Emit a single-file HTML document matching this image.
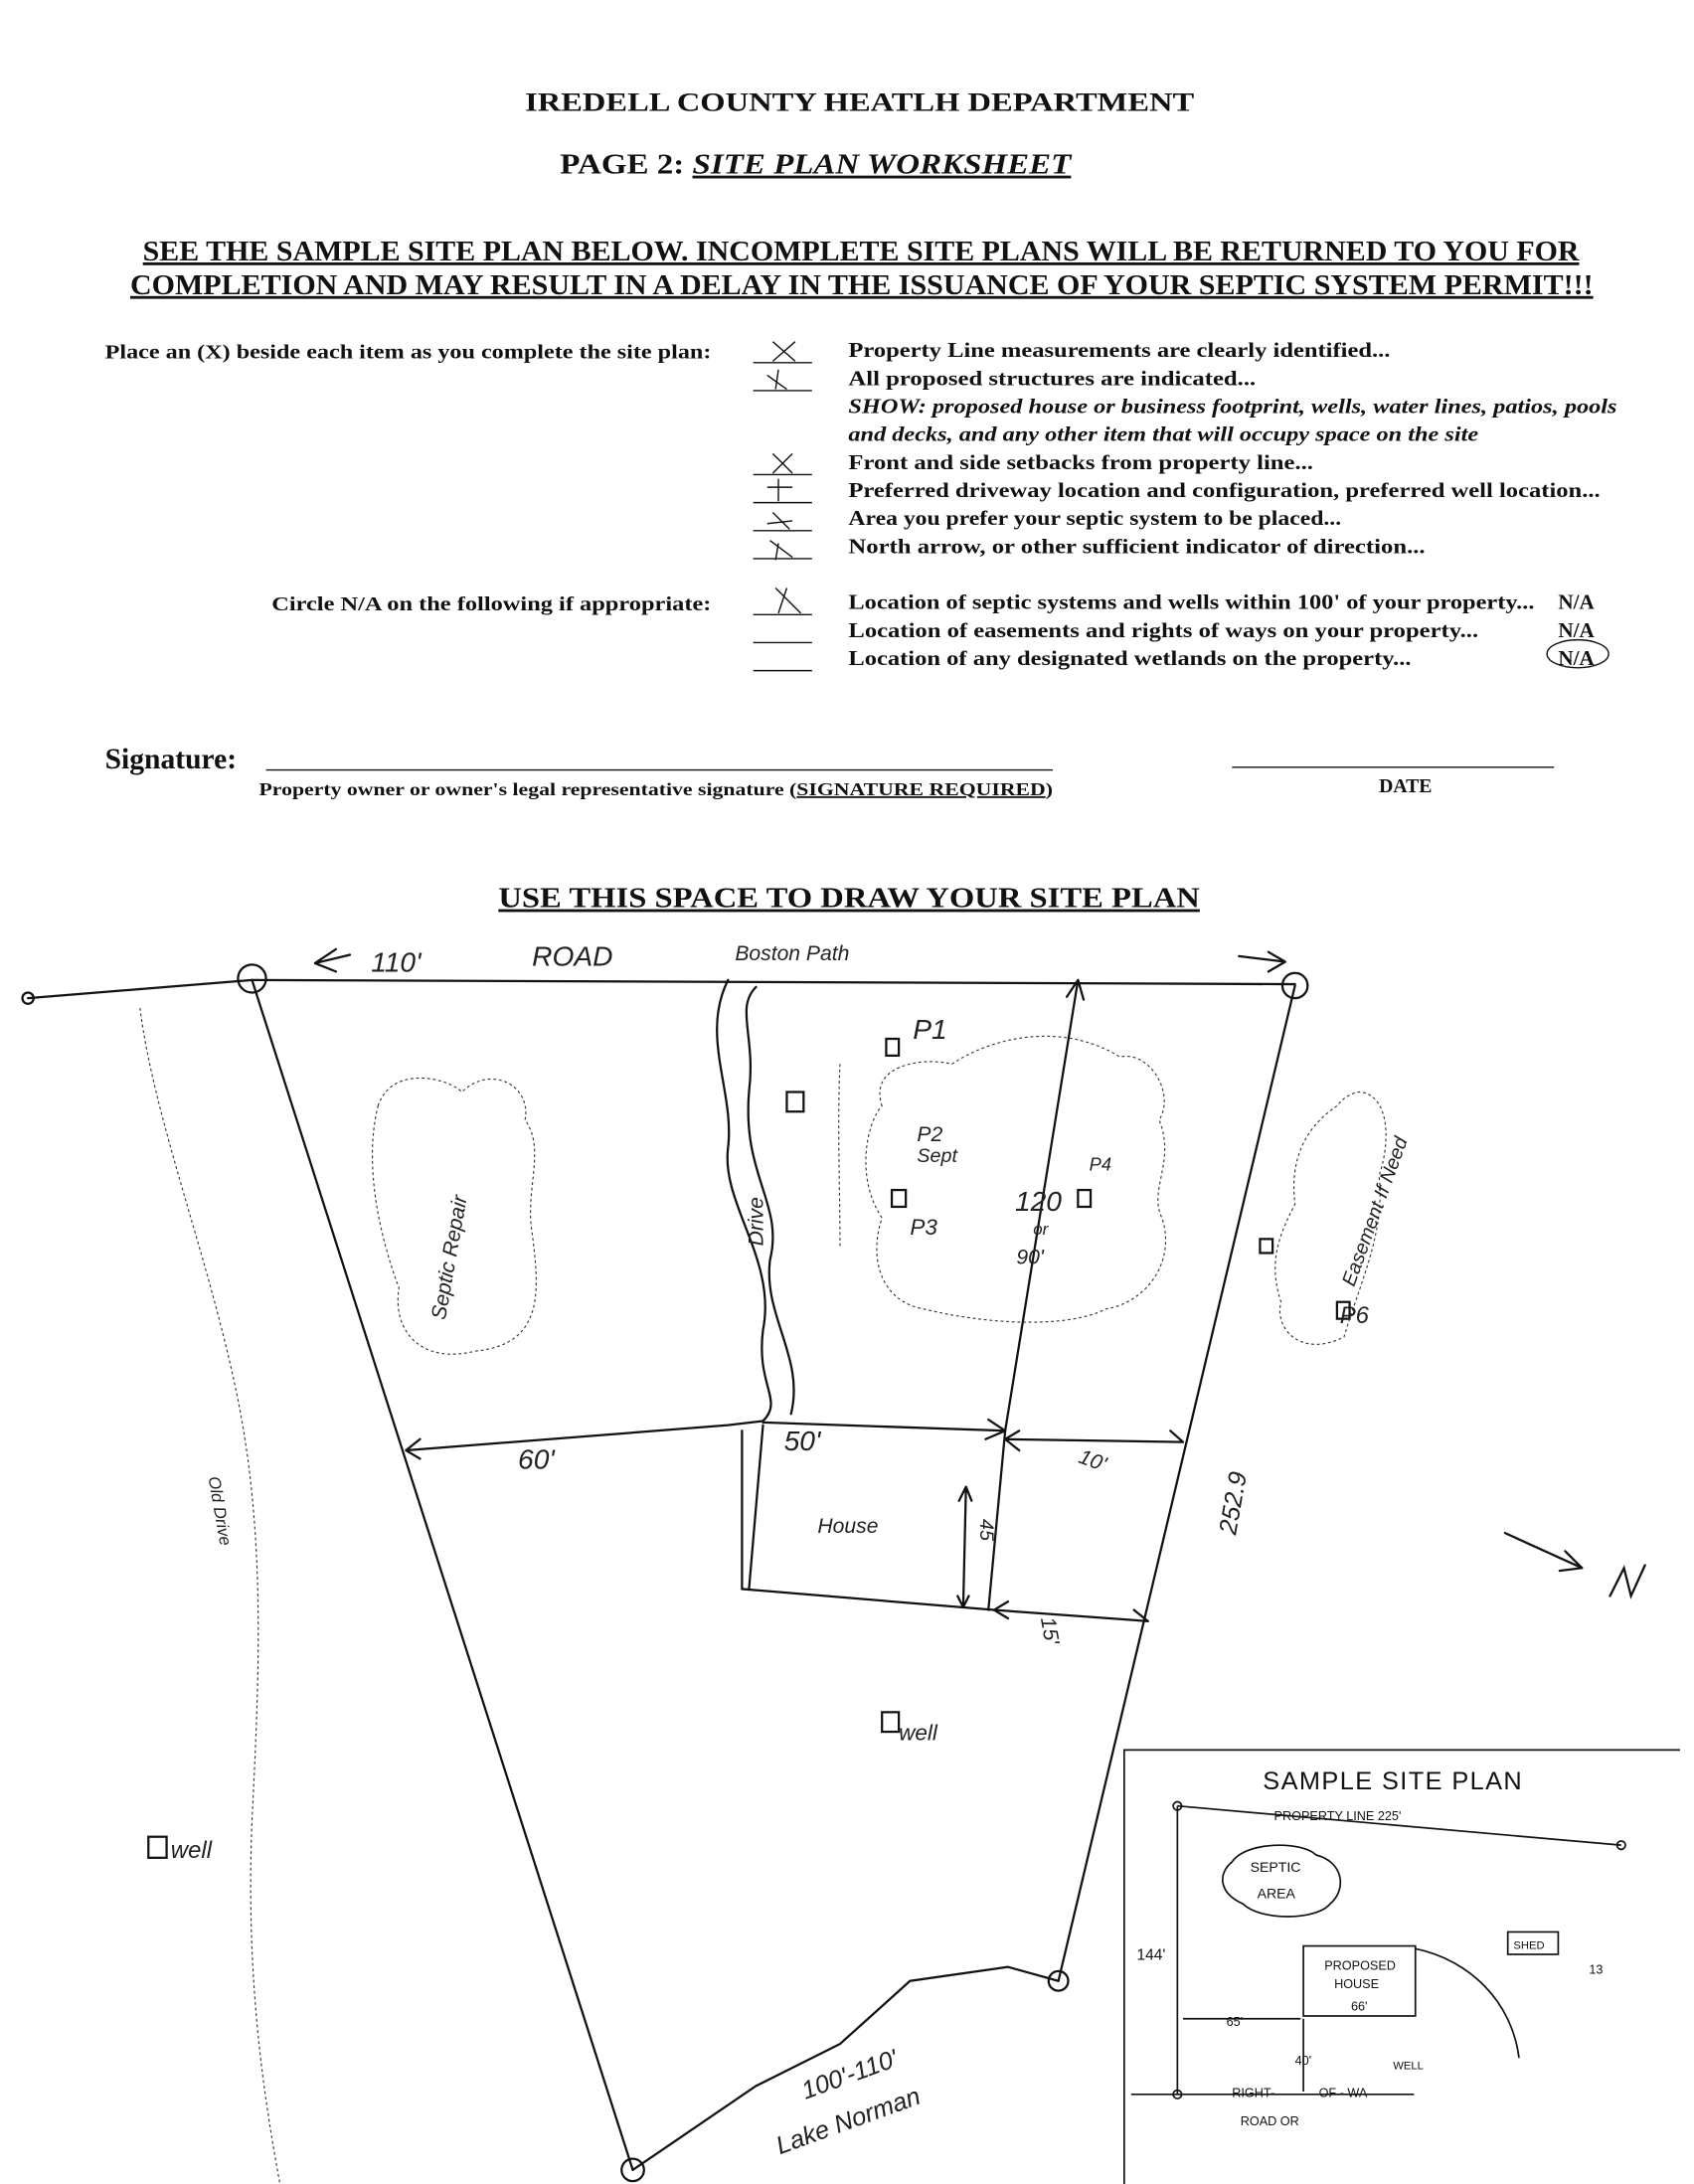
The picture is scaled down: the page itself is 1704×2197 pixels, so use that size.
<!DOCTYPE html>
<html><head><meta charset="utf-8"><style>
html,body{margin:0;padding:0;background:#fff}
svg{display:block}
.t{font-family:"Liberation Serif",serif;font-weight:bold;fill:#111}
.h{font-family:"Liberation Sans",sans-serif;fill:#222;font-style:italic}
</style></head><body>
<svg width="1704" height="2197" viewBox="0 0 1210 1560" xmlns="http://www.w3.org/2000/svg">
<rect width="1210" height="1560" fill="#fff"/>
<g class="t">
<text x="375" y="79" font-size="19" textLength="478" lengthAdjust="spacingAndGlyphs">IREDELL COUNTY HEATLH DEPARTMENT</text>
<text x="400" y="124" font-size="20" textLength="365" lengthAdjust="spacingAndGlyphs">PAGE 2:  <tspan font-style="italic" text-decoration="underline">SITE PLAN WORKSHEET</tspan></text>
<text x="102" y="186" font-size="20" textLength="1026" lengthAdjust="spacingAndGlyphs" text-decoration="underline">SEE THE SAMPLE SITE PLAN BELOW.  INCOMPLETE SITE PLANS WILL BE RETURNED TO YOU FOR</text>
<text x="93" y="210" font-size="20" textLength="1045" lengthAdjust="spacingAndGlyphs" text-decoration="underline">COMPLETION AND MAY RESULT IN A DELAY IN THE ISSUANCE OF YOUR SEPTIC SYSTEM PERMIT!!!</text>
<text x="75" y="256" font-size="14" textLength="433" lengthAdjust="spacingAndGlyphs">Place an (X) beside each item as you complete the site plan:</text>
<text x="194" y="436" font-size="14" textLength="314" lengthAdjust="spacingAndGlyphs">Circle N/A on the following if appropriate:</text>
<g font-size="15" lengthAdjust="spacingAndGlyphs">
<text x="606" y="255" textLength="387" lengthAdjust="spacingAndGlyphs">Property Line measurements are clearly identified...</text>
<text x="606" y="275" textLength="291" lengthAdjust="spacingAndGlyphs">All proposed structures are indicated...</text>
<text x="606" y="295" font-style="italic" textLength="549" lengthAdjust="spacingAndGlyphs">SHOW: proposed house or business footprint, wells, water lines, patios, pools</text>
<text x="606" y="315" font-style="italic" textLength="450" lengthAdjust="spacingAndGlyphs">and decks, and any other item that will occupy space on the site</text>
<text x="606" y="335" textLength="332" lengthAdjust="spacingAndGlyphs">Front and side setbacks from property line...</text>
<text x="606" y="355" textLength="537" lengthAdjust="spacingAndGlyphs">Preferred driveway location and configuration, preferred well location...</text>
<text x="606" y="375" textLength="352" lengthAdjust="spacingAndGlyphs">Area you prefer your septic system to be placed...</text>
<text x="606" y="395" textLength="412" lengthAdjust="spacingAndGlyphs">North arrow, or other sufficient indicator of direction...</text>
<text x="606" y="435" textLength="490" lengthAdjust="spacingAndGlyphs">Location of septic systems and wells within 100' of your property...</text>
<text x="1113" y="435">N/A</text>
<text x="606" y="455" textLength="450" lengthAdjust="spacingAndGlyphs">Location of easements and rights of ways on your property...</text>
<text x="1113" y="455">N/A</text>
<text x="606" y="475" textLength="402" lengthAdjust="spacingAndGlyphs">Location of any designated wetlands on the property...</text>
<text x="1113" y="475">N/A</text>
</g>
<text x="75" y="549" font-size="21">Signature:</text>
<text x="185" y="568" font-size="13" textLength="567" lengthAdjust="spacingAndGlyphs">Property owner or owner's legal representative signature  (<tspan text-decoration="underline">SIGNATURE REQUIRED</tspan>)</text>
<text x="985" y="566" font-size="14">DATE</text>
<text x="356" y="648" font-size="20" textLength="501" lengthAdjust="spacingAndGlyphs" text-decoration="underline">USE THIS SPACE TO DRAW YOUR SITE PLAN</text>
</g>
<g stroke="#111" stroke-width="1" fill="none">
<line x1="538" y1="259" x2="580" y2="259"/><line x1="538" y1="279" x2="580" y2="279"/>
<line x1="538" y1="339" x2="580" y2="339"/><line x1="538" y1="359" x2="580" y2="359"/>
<line x1="538" y1="379" x2="580" y2="379"/><line x1="538" y1="399" x2="580" y2="399"/>
<line x1="538" y1="439" x2="580" y2="439"/><line x1="538" y1="459" x2="580" y2="459"/><line x1="538" y1="479" x2="580" y2="479"/>
<path d="M552 244 L568 258 M568 244 L552 258 M548 268 L562 278 M556 264 L554 278 M552 324 L566 338 M566 324 L552 338 M548 348 L566 348 M556 342 L556 358 M552 366 L564 378 M548 374 L566 372 M550 386 L566 398 M556 388 L554 400 M554 420 L572 438 M562 420 L556 438"/>
<ellipse cx="1127" cy="467" rx="22" ry="10"/>
<line x1="190" y1="550" x2="752" y2="550"/>
<line x1="880" y1="548" x2="1110" y2="548"/>
</g>
<g stroke="#111" stroke-width="1.6" fill="none" stroke-linecap="round">
<path d="M20 713 L180 700"/>
<circle cx="20" cy="713" r="4"/>
<path d="M180 700 L925 703"/>
<circle cx="180" cy="699" r="10"/><circle cx="925" cy="704" r="9"/>
<circle cx="756" cy="1415" r="7"/><circle cx="452" cy="1550" r="8"/>
<path d="M180 700 L452 1550"/>
<path d="M925 704 L756 1415"/>
<path d="M756 1415 L720 1405 L650 1415 L600 1460 L540 1490 L452 1550"/>
<path d="M290 1036 L520 1018 L545 1015 M290 1036 L300 1028 M290 1036 L300 1042"/>
<path d="M545 1016 L718 1022 M718 1022 L706 1014 M718 1022 L704 1028"/>
<path d="M718 1028 L845 1030 M718 1028 L728 1022 M718 1028 L728 1036 M845 1030 L836 1022"/>
<path d="M530 1022 L530 1135 L710 1150"/>
<path d="M545 1018 L535 1135"/>
<path d="M710 1150 L820 1158 M710 1150 L720 1144 M710 1150 L720 1156 M820 1158 L810 1150"/>
<path d="M770 700 L718 1022 L706 1150 M770 700 L762 712 M770 700 L774 714"/>
<path d="M690 1062 L688 1148 M690 1062 L685 1072 M690 1062 L694 1072 M688 1148 L684 1140 M688 1148 L692 1140"/>
<path d="M520 700 C500 740 525 780 520 820 C515 860 555 900 545 950 C540 990 560 1000 545 1015"/>
<path d="M565 1010 C575 970 545 940 550 900 C560 860 530 840 535 780 C540 740 525 720 540 705"/>
<path d="M225 688 L250 682 M225 688 L240 678 M225 688 L240 694"/>
<path d="M885 683 L918 687 M918 687 L906 680 M918 687 L906 694"/>
<path d="M1075 1095 L1130 1120 M1130 1120 L1118 1108 M1130 1120 L1114 1122"/>
<path d="M1150 1140 L1160 1120 L1165 1140 L1175 1118"/>
<rect x="633" y="742" width="9" height="12"/><rect x="562" y="780" width="12" height="14"/>
<rect x="637" y="850" width="10" height="12"/><rect x="770" y="850" width="9" height="12"/>
<rect x="955" y="930" width="9" height="12"/><rect x="630" y="1223" width="12" height="14"/>
<rect x="106" y="1312" width="13" height="15"/><rect x="900" y="885" width="9" height="10"/>
</g>
<g stroke="#333" stroke-width="0.8" fill="none" stroke-dasharray="2 2">
<path d="M270 790 C280 760 320 770 330 780 C350 760 380 775 375 800 C390 820 375 850 380 880 C385 920 390 960 340 965 C300 975 280 950 285 920 C270 880 260 830 270 790Z"/>
<path d="M630 790 C620 760 660 755 680 760 C710 740 760 730 800 755 C820 750 840 780 828 800 C840 830 820 850 830 870 C840 900 820 930 790 935 C760 950 700 945 660 935 C630 930 620 900 630 870 C610 840 620 800 630 790Z"/>
<path d="M955 790 C940 800 920 820 925 860 C915 880 905 900 915 930 C910 950 930 970 960 955 C970 920 990 880 985 840 C995 810 990 780 970 780 C962 782 958 786 955 790Z"/>
<path d="M100 720 C110 800 150 900 170 1000 C190 1100 185 1200 180 1300 C176 1400 185 1480 200 1560"/>
<path d="M600 760 C598 800 600 850 600 890"/>
</g>
<g class="h" font-size="20">
<text x="265" y="694">110'</text><text x="380" y="690">ROAD</text>
<text x="525" y="686" font-size="15">Boston Path</text>
<text x="652" y="742">P1</text><text x="655" y="815" font-size="15">P2</text><text x="655" y="830" font-size="14">Sept</text>
<text x="650" y="882" font-size="16">P3</text><text x="778" y="836" font-size="13">P4</text>
<text x="725" y="865">120</text><text x="738" y="882" font-size="12">or</text><text x="726" y="903" font-size="15">90'</text>
<text x="957" y="945" font-size="17">P6</text>
<text x="370" y="1049">60'</text><text x="560" y="1036">50'</text><text x="770" y="1048" font-size="15" transform="rotate(20 780 1045)">10'</text>
<text x="584" y="1095" font-size="15">House</text><text x="642" y="1243" font-size="16">well</text>
<text x="122" y="1327" font-size="17">well</text>
<text x="740" y="1170" font-size="15" transform="rotate(80 750 1165)">15'</text>
<text x="570" y="1490" font-size="18" transform="rotate(-20 600 1480)">100'-110'</text>
<text x="552" y="1530" font-size="18" transform="rotate(-20 580 1520)">Lake Norman</text>
<text x="530" y="885" font-size="15" transform="rotate(-90 540 880)">Drive</text>
<text x="290" y="950" font-size="15" transform="rotate(-80 300 930)">Septic Repair</text>
<text x="835" y="1120" font-size="18" transform="rotate(-80 845 1080)">252.9</text>
<text x="700" y="1085" font-size="14" transform="rotate(90 700 1085)">45</text>
<text x="915" y="935" font-size="14" transform="rotate(-70 930 890)">Easement If Need</text>
<text x="170" y="1090" font-size="12" transform="rotate(80 180 1060)">Old Drive</text>
</g>
<g stroke="#111" stroke-width="1.2" fill="none">
<path d="M803 1568 L803 1250 L1200 1250"/>
<path d="M841 1290 L1158 1318 M841 1290 L841 1496 M808 1496 L1010 1496"/>
<circle cx="841" cy="1290" r="3"/><circle cx="1158" cy="1318" r="3"/><circle cx="841" cy="1496" r="3"/>
<rect x="931" y="1390" width="80" height="50"/>
<rect x="1077" y="1380" width="36" height="16"/>
<path d="M845 1442 L929 1442 M931 1442 L931 1494"/>
<path d="M1011 1392 C1050 1400 1080 1430 1085 1470"/>
<path d="M880 1330 C890 1315 930 1315 940 1325 C960 1330 962 1350 950 1360 C940 1372 900 1372 888 1360 C870 1352 870 1338 880 1330Z"/>
</g>
<g font-family="Liberation Sans,sans-serif" fill="#111">
<text x="995" y="1278" font-size="18" text-anchor="middle" letter-spacing="1">SAMPLE SITE PLAN</text>
<text x="910" y="1300" font-size="9">PROPERTY  LINE  225'</text>
<text x="893" y="1337" font-size="10">SEPTIC</text><text x="898" y="1356" font-size="10">AREA</text>
<text x="812" y="1400" font-size="11">144'</text>
<text x="946" y="1407" font-size="9">PROPOSED</text><text x="953" y="1420" font-size="9">HOUSE</text>
<text x="965" y="1436" font-size="9">66'</text>
<text x="1081" y="1392" font-size="8">SHED</text>
<text x="876" y="1447" font-size="9">65'</text><text x="925" y="1475" font-size="9">40'</text>
<text x="995" y="1478" font-size="8">WELL</text>
<text x="880" y="1498" font-size="9">RIGHT-</text><text x="942" y="1498" font-size="9">OF - WA</text>
<text x="886" y="1518" font-size="9">ROAD   OR</text>
<text x="1135" y="1410" font-size="9">13</text>
</g>
</svg>
</body></html>
